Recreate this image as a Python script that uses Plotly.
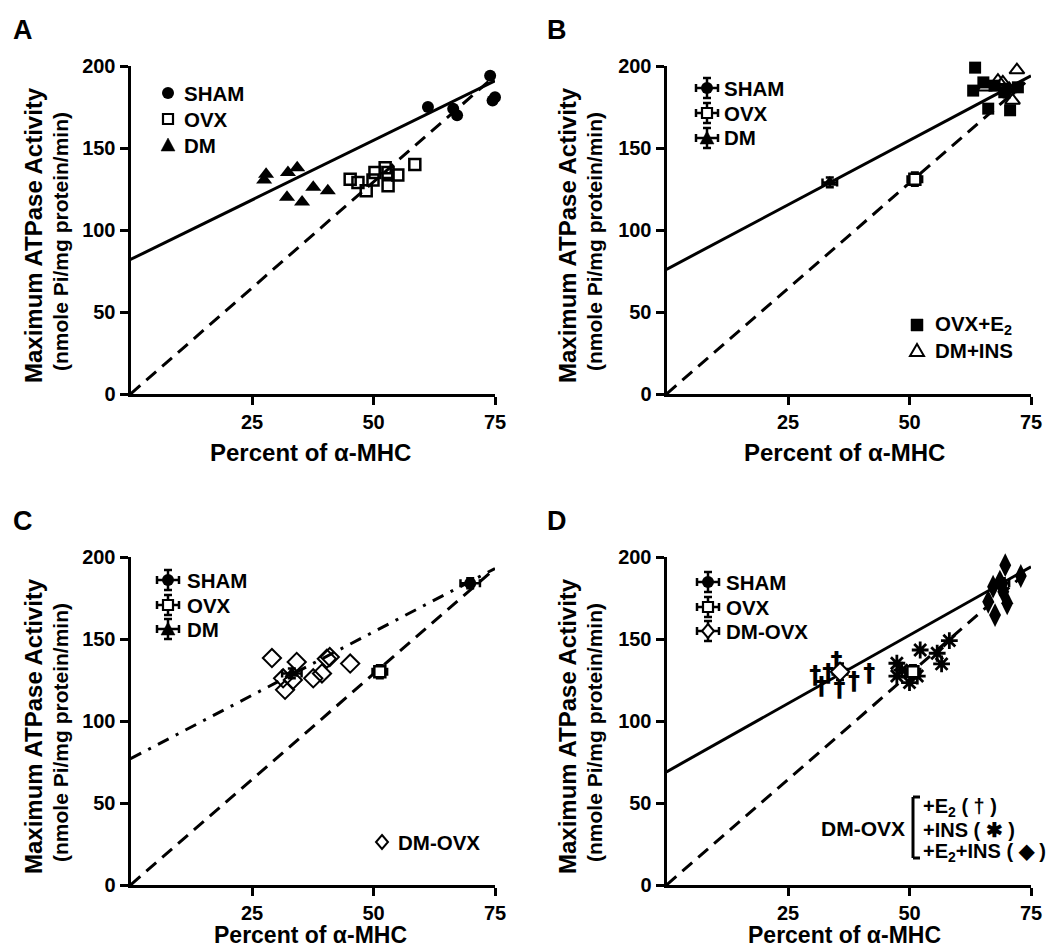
import plotly.graph_objects as go

# page: 1055x952 window, default 8px body margin -> figure 1039x936 placed at (8, 8)
PAGE_OFF = 8
W, H = 1039, 936
FONT = "Liberation Sans, Arial, sans-serif"

# ---------------- data ----------------
# Panel A : individual animals
A_sham_x = [61.2, 66.4, 67.2, 74.0, 74.5, 75.0]
A_sham_y = [175, 174, 170, 194, 179, 181]
A_ovx_x = [45.2, 46.8, 48.5, 49.9, 50.3, 52.4, 53.0, 53.0, 55.0, 58.5]
A_ovx_y = [131, 129, 124, 130.5, 135, 138, 135, 127, 133.5, 140]
A_dm_x = [27.9, 27.5, 32.4, 34.3, 37.6, 40.6, 32.2, 35.3]
A_dm_y = [134, 130.5, 135, 138, 126, 124, 120, 117]

# Panel B : group means (with SE) and treated animals
B_mean_names = ["SHAM", "OVX", "DM"]
B_mean_x = [70.0, 51.1, 33.6]
B_mean_y = [185, 131, 129]
B_mean_ex = [1.5, 1.5, 1.5]
B_mean_ey = [4, 4, 3]
B_ovxe2_x = [63.5, 63.1, 65.2, 66.2, 67.5, 70.7, 72.3, 69.5]
B_ovxe2_y = [199, 185, 190, 174, 188, 173, 187, 184]
B_dmins_x = [72.1, 68.2, 71.2, 65.5, 69.2, 70.5]
B_dmins_y = [197.5, 191, 179, 187, 190, 186]

# Panel C
C_mean_names = ["SHAM", "OVX", "DM"]
C_mean_x = [69.9, 51.3, 33.2]
C_mean_y = [184, 130, 129]
C_mean_ex = [2.0, 1.5, 2.0]
C_mean_ey = [3, 4, 3]
C_dmovx_x = [29.1, 34.2, 31.4, 31.8, 33.4, 37.6, 39.4, 40.4, 41.0, 45.2]
C_dmovx_y = [138.4, 136, 126, 119, 125, 126, 129, 138, 139, 135]

# Panel D
D_mean_names = ["SHAM", "OVX", "DM-OVX"]
D_mean_x = [69.0, 50.7, 35.7]
D_mean_y = [184, 130, 130]
D_mean_ex = [1.5, 1.5, 1.5]
D_mean_ey = [3, 4, 5]
D_e2_x = [30.6, 31.9, 33.3, 35.0, 35.6, 38.6, 41.7]
D_e2_y = [126.8, 119.9, 128, 135.2, 118.9, 123, 128]
D_ins_x = [47.4, 47.4, 48.4, 50.0, 51.6, 52.2, 55.7, 56.6, 58.2]
D_ins_y = [135.2, 127.4, 131, 123.4, 127.4, 143.3, 141.3, 134.8, 149]
D_e2ins_x = [69.7, 72.9, 70.1, 67.6, 66.2, 67.2, 68.6, 69.3]
D_e2ins_y = [195, 188.4, 171.8, 164.6, 172.7, 181.9, 185, 178.8]

# regression lines (values at x = 0 and x = 75)
fit_x = [0, 75]
A_solid_y = [82, 191]
A_dash_y = [0, 194]
B_solid_y = [76, 194]
B_dash_y = [0, 193]
C_dashdot_y = [77, 193]
C_dash_y = [0, 193]
D_solid_y = [69, 194]
D_dash_y = [0, 193]

x_ticks = [25, 50, 75]
y_ticks = [0, 50, 100, 150, 200]

# ---------------- helpers (positions given in window pixels) ----------------
def fx(px):
    return (px - PAGE_OFF) / W

def fy(py):
    return 1 - (py - PAGE_OFF) / H

BOLD = dict(family=FONT, color="black", weight="bold")

fig = go.Figure()

def line(xs, ys, ax, dash):
    fig.add_trace(go.Scatter(x=xs, y=ys, mode="lines", xaxis="x" + ax, yaxis="y" + ax,
                             line=dict(color="black", width=3, dash=dash),
                             showlegend=False, hoverinfo="skip"))

def pts(xs, ys, ax, name, symbol, size, lw=2.5, color="black", ex=None, ey=None):
    kw = {}
    if ex is not None:
        kw["error_x"] = dict(type="data", array=ex, color="black", thickness=2.5, width=4)
        kw["error_y"] = dict(type="data", array=ey, color="black", thickness=2.5, width=4)
    fig.add_trace(go.Scatter(
        x=xs, y=ys, mode="markers", name=name, xaxis="x" + ax, yaxis="y" + ax,
        marker=dict(symbol=symbol, size=size, color=color,
                    line=dict(color="black", width=lw)),
        showlegend=False, cliponaxis=False, **kw))

# Panel A
line(fit_x, A_solid_y, "", "solid")
line(fit_x, A_dash_y, "", "13px,8px")
pts(A_sham_x, A_sham_y, "", "SHAM", "circle", 12, 0)
pts(A_ovx_x, A_ovx_y, "", "OVX", "square-open", 11, 2.5)
pts(A_dm_x, A_dm_y, "", "DM", "triangle-up", 14, 0)

mean_sym = {"SHAM": ("circle", 12, 0, "black"), "OVX": ("square", 11, 2.5, "white"),
            "DM": ("triangle-up", 13, 0, "black"), "DM-OVX": ("diamond", 14, 2, "white")}

# Panel B
line(fit_x, B_solid_y, "2", "solid")
line(fit_x, B_dash_y, "2", "13px,8px")
pts(B_ovxe2_x, B_ovxe2_y, "2", "OVX+E2", "square", 12, 0)
pts(B_dmins_x, B_dmins_y, "2", "DM+INS", "triangle-up-open", 13, 2)
for i, n in enumerate(B_mean_names):
    s, sz, lw, c = mean_sym[n]
    pts([B_mean_x[i]], [B_mean_y[i]], "2", n, s, sz, lw, c, [B_mean_ex[i]], [B_mean_ey[i]])

# Panel C
line(fit_x, C_dashdot_y, "3", "12px,8px,3px,8px")
line(fit_x, C_dash_y, "3", "13px,8px")
pts(C_dmovx_x, C_dmovx_y, "3", "DM-OVX", "diamond-open", 14, 2)
for i, n in enumerate(C_mean_names):
    s, sz, lw, c = mean_sym[n]
    pts([C_mean_x[i]], [C_mean_y[i]], "3", n, s, sz, lw, c, [C_mean_ex[i]], [C_mean_ey[i]])

# Panel D
line(fit_x, D_solid_y, "4", "solid")
line(fit_x, D_dash_y, "4", "13px,8px")
fig.add_trace(go.Scatter(x=D_e2_x, y=D_e2_y, mode="text", text=["†"] * len(D_e2_x),
                         textfont=dict(family="DejaVu Sans", size=24, color="black", weight="bold"),
                         xaxis="x4", yaxis="y4", showlegend=False, cliponaxis=False,
                         hoverinfo="skip"))
pts(D_ins_x, D_ins_y, "4", "+INS", "asterisk-open", 14, 2.8)
pts(D_e2ins_x, D_e2ins_y, "4", "+E2+INS", "diamond-tall", 17, 0)
for i, n in enumerate(D_mean_names):
    s, sz, lw, c = mean_sym[n]
    pts([D_mean_x[i]], [D_mean_y[i]], "4", n, s, sz, lw, c, [D_mean_ex[i]], [D_mean_ey[i]])

# ---------------- layout ----------------
def xax(x0, x1, anchor):
    return dict(domain=[fx(x0), fx(x1)], range=[0, 75], tickvals=x_ticks, ticks="outside",
                ticklen=8, tickwidth=3, tickcolor="black", showline=True, linewidth=3,
                linecolor="black", showgrid=False, zeroline=False, anchor=anchor,
                automargin=False, tickfont=dict(size=20, **BOLD), fixedrange=True)

def yax(y0, y1, anchor):
    return dict(domain=[fy(y0), fy(y1)], range=[0, 200], tickvals=y_ticks, ticks="outside",
                ticklen=8, tickwidth=3, tickcolor="black", showline=True, linewidth=3,
                linecolor="black", showgrid=False, zeroline=False, anchor=anchor,
                automargin=False, tickfont=dict(size=20, **BOLD), fixedrange=True)

LX = {"": (130.5, 495), "2": (666.5, 1031), "3": (130.5, 495), "4": (666.5, 1031)}
LY = {"": (394, 66), "2": (394, 66), "3": (885, 557), "4": (885, 557)}

lay = dict(template="none", width=W, height=H, margin=dict(l=0, r=0, t=0, b=0, pad=0),
           paper_bgcolor="white", plot_bgcolor="white", showlegend=False)
for k in ["", "2", "3", "4"]:
    lay["xaxis" + k] = xax(LX[k][0], LX[k][1], "y" + k)
    lay["yaxis" + k] = yax(LY[k][0], LY[k][1], "x" + k)
fig.update_layout(**lay)

ann = []
def text(px, py, s, size, angle=0, xanchor="center"):
    ann.append(dict(x=fx(px), y=fy(py), xref="paper", yref="paper", text=s, showarrow=False,
                    font=dict(size=size, **BOLD), textangle=angle, xanchor=xanchor,
                    yanchor="middle"))

shapes = []
def seg(x0, y0, x1, y1, w=2.5):
    shapes.append(dict(type="line", xref="paper", yref="paper", x0=fx(x0), y0=fy(y0),
                       x1=fx(x1), y1=fy(y1), line=dict(color="black", width=w)))

def poly(pts_, fill, w=2.5):
    p = "M " + " L ".join(f"{fx(a)} {fy(b)}" for a, b in pts_) + " Z"
    shapes.append(dict(type="path", xref="paper", yref="paper", path=p,
                       fillcolor=fill, line=dict(color="black", width=w)))

def glyph(kind, cx, cy, bars=False):
    if bars:
        seg(cx - 11, cy, cx + 11, cy)
        seg(cx - 11, cy - 4, cx - 11, cy + 4)
        seg(cx + 11, cy - 4, cx + 11, cy + 4)
        seg(cx, cy - 10, cx, cy + 10)
        seg(cx - 4, cy - 10, cx + 4, cy - 10)
        seg(cx - 4, cy + 10, cx + 4, cy + 10)
    if kind == "circle":
        shapes.append(dict(type="circle", xref="paper", yref="paper", x0=fx(cx - 6), x1=fx(cx + 6),
                           y0=fy(cy + 6), y1=fy(cy - 6), fillcolor="black",
                           line=dict(color="black", width=0)))
    elif kind == "square_open":
        poly([(cx - 5, cy - 5), (cx + 5, cy - 5), (cx + 5, cy + 5), (cx - 5, cy + 5)], "white", 2.2)
    elif kind == "square":
        poly([(cx - 6, cy - 6), (cx + 6, cy - 6), (cx + 6, cy + 6), (cx - 6, cy + 6)], "black", 0.5)
    elif kind == "triangle":
        poly([(cx - 7, cy + 6), (cx + 7, cy + 6), (cx, cy - 7)], "black", 0.5)
    elif kind == "triangle_open":
        poly([(cx - 7, cy + 6), (cx + 7, cy + 6), (cx, cy - 6)], "white", 2)
    elif kind == "diamond_open":
        poly([(cx, cy - 7), (cx + 6, cy), (cx, cy + 7), (cx - 6, cy)], "white", 2)

LEG = 20.5
def legend(rows, gx, tx, bars):
    for kind, label, cy in rows:
        glyph(kind, gx, cy, bars)
        text(tx, cy, label, LEG, xanchor="left")

legend([("circle", "SHAM", 93), ("square_open", "OVX", 119), ("triangle", "DM", 145)], 168, 182, False)
legend([("circle", "SHAM", 88), ("square_open", "OVX", 113), ("triangle", "DM", 138)], 707, 722, True)
legend([("square", "OVX+E<sub>2</sub>", 325), ("triangle_open", "DM+INS", 350)], 917, 933, False)
legend([("circle", "SHAM", 580), ("square_open", "OVX", 605), ("triangle", "DM", 629)], 168, 185, True)
legend([("diamond_open", "DM-OVX", 842)], 382, 396, False)
legend([("circle", "SHAM", 582), ("square_open", "OVX", 607), ("diamond_open", "DM-OVX", 631)], 708, 724, True)

for (ox, oy, letter, ty, ts) in [(0, 0, "A", 452, 24), (534, 0, "B", 452, 24),
                                 (0, 491, "C", 935, 23), (534, 491, "D", 935, 23)]:
    text(23 + ox, 30 + oy, letter, 27)
    text(33 + ox, 235 + oy, "Maximum ATPase Activity", 24, -90)
    text(60 + ox, 242 + oy, "(nmole Pi/mg protein/min)", 21, -90)
    text(310 + ox, ty, "Percent of α-MHC", ts)

# D bracket legend
text(907, 828, "DM-OVX", 21, xanchor="right")
text(921, 807, "+E<sub>2</sub> ( † )", 20, xanchor="left")
text(921, 830, "+INS ( ✱ )", 20, xanchor="left")
text(921, 852, "+E<sub>2</sub>+INS ( ◆ )", 20, xanchor="left")
seg(920, 797, 913, 797, 3)
seg(913, 797, 913, 858, 3)
seg(913, 858, 920, 858, 3)

fig.update_layout(annotations=ann, shapes=shapes)

fig.write_html("out.html", config={"displayModeBar": False})
